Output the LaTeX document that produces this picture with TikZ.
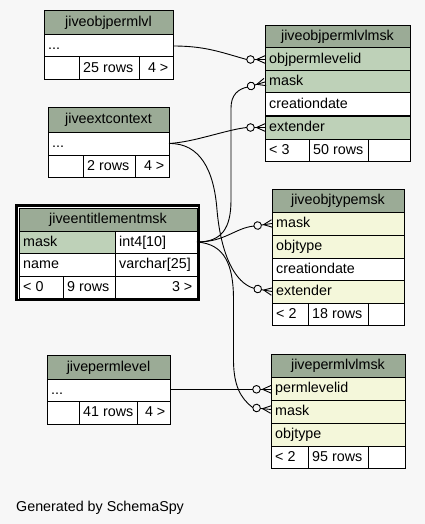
\documentclass[tikz,border=0pt]{standalone}
\usepackage{fontspec}
\setmainfont{Liberation Sans}
\definecolor{bg}{HTML}{F7F7F7}
\definecolor{hdr}{HTML}{9BAB96}
\definecolor{pk}{HTML}{BED1B8}
\definecolor{idx}{HTML}{F4F7DA}
\newcommand\cellnode[6]{\node[tcell,fill=#2,minimum width={#5pt-#3pt},minimum height={#6pt-#4pt},anchor=north west] (#1) at (#3,#4) {};}
\newcommand\lcell[7]{\cellnode{#1}{#2}{#3}{#4}{#5}{#6}\node[ttext,anchor=west] (#1t) at ([xshift=4pt]#1.west) {#7};}
\newcommand\ccell[7]{\cellnode{#1}{#2}{#3}{#4}{#5}{#6}\node[ttext] (#1t) at (#1.center) {#7};}
\newcommand\rcell[7]{\cellnode{#1}{#2}{#3}{#4}{#5}{#6}\node[ttext,anchor=east] (#1t) at ([xshift=-4.5pt]#1.east) {#7};}
\newcommand\crowfoot[3]{%
  \begin{scope}[shift={(#1)},rotate=#2]
    \draw[edge] (0,0) -- (-10.8,0);
    \draw[edge] (-8.5,0) -- (0,3.8) (-8.5,0) -- (0,-3.8);
    \draw[edge,fill=bg] (-14.5,0) circle[radius=3.8pt];
    \coordinate (#3) at (-18.3,0);
  \end{scope}}
\begin{document}
\begin{tikzpicture}[x=1pt,y=-1pt,
  tcell/.style={draw=black,line width=1pt,inner sep=0pt,outer sep=0pt},
  ttext/.style={inner sep=0pt,text height=11pt,text depth=3pt,font=\fontsize{14.3}{17}\selectfont},
  edge/.style={line width=0.9pt}]
\fill[bg] (0,0) rectangle (425,524);
\useasboundingbox (0,0) rectangle (425,524);

% jiveobjpermlvl
\ccell{t1h}{hdr}{44}{11}{173}{35}{jiveobjpermlvl}
\lcell{t1r}{white}{44}{35}{173}{57}{...}
\lcell{t1fa}{white}{44}{57}{79}{80}{}
\lcell{t1fb}{white}{79}{57}{139}{80}{25 rows}
\rcell{t1fc}{white}{139}{57}{173}{80}{4 >}

% jiveextcontext
\ccell{t2h}{hdr}{48}{108}{169}{132}{jiveextcontext}
\lcell{t2r}{white}{48}{132}{169}{155}{...}
\lcell{t2fa}{white}{48}{155}{83}{177}{}
\lcell{t2fb}{white}{83}{155}{135}{177}{2 rows}
\rcell{t2fc}{white}{135}{155}{169}{177}{4 >}

% jiveobjpermlvlmsk
\ccell{t3h}{hdr}{265}{26}{410}{48}{jiveobjpermlvlmsk}
\lcell{t3a}{pk}{265}{48}{410}{71}{objpermlevelid}
\lcell{t3b}{pk}{265}{71}{410}{93}{mask}
\lcell{t3c}{white}{265}{93}{410}{116}{creationdate}
\lcell{t3d}{pk}{265}{116}{410}{139}{extender}
\lcell{t3fa}{white}{265}{139}{309}{161}{< 3}
\lcell{t3fb}{white}{309}{139}{368}{161}{50 rows}
\lcell{t3fc}{white}{368}{139}{410}{161}{}

% jiveentitlementmsk
\node[draw,line width=2.5pt,fill=white,inner sep=0pt,outer sep=0pt,minimum width=182.5pt,minimum height=94.5pt,anchor=north west] (t4) at (16.25,205.5) {};
\ccell{t4h}{hdr}{19}{208}{197}{231}{jiveentitlementmsk}
\lcell{t4a}{pk}{19}{231}{115}{253}{mask}
\lcell{t4ab}{white}{115}{231}{197}{253}{int4[10]}
\lcell{t4b}{white}{19}{253}{115}{276}{name}
\lcell{t4bb}{white}{115}{253}{197}{276}{varchar[25]}
\lcell{t4fa}{white}{19}{276}{63}{298}{< 0}
\lcell{t4fb}{white}{63}{276}{115}{298}{9 rows}
\rcell{t4fc}{white}{115}{276}{197}{298}{3 >}

% jiveobjtypemsk
\ccell{t5h}{hdr}{272}{189}{404}{212}{jiveobjtypemsk}
\lcell{t5a}{idx}{272}{212}{404}{235}{mask}
\lcell{t5b}{idx}{272}{235}{404}{258}{objtype}
\lcell{t5c}{white}{272}{258}{404}{280}{creationdate}
\lcell{t5d}{idx}{272}{280}{404}{303}{extender}
\lcell{t5fa}{white}{272}{303}{308}{325}{< 2}
\lcell{t5fb}{white}{308}{303}{368}{325}{18 rows}
\lcell{t5fc}{white}{368}{303}{404}{325}{}

% jivepermlevel
\ccell{t6h}{hdr}{47}{355}{170}{379}{jivepermlevel}
\lcell{t6r}{white}{47}{379}{170}{401}{...}
\lcell{t6fa}{white}{47}{401}{79}{424}{}
\lcell{t6fb}{white}{79}{401}{137}{424}{41 rows}
\rcell{t6fc}{white}{137}{401}{170}{424}{4 >}

% jivepermlvlmsk
\ccell{t7h}{hdr}{271}{354}{405}{377}{jivepermlvlmsk}
\lcell{t7a}{idx}{271}{377}{405}{400}{permlevelid}
\lcell{t7b}{idx}{271}{400}{405}{423}{mask}
\lcell{t7c}{idx}{271}{423}{405}{446}{objtype}
\lcell{t7fa}{white}{271}{446}{308}{468}{< 2}
\lcell{t7fb}{white}{308}{446}{368}{468}{95 rows}
\lcell{t7fc}{white}{368}{446}{405}{468}{}

\node[ttext,anchor=base west] (gen) at (16,511.5) {Generated by SchemaSpy};

% crow's feet
\crowfoot{t3a.west}{0}{e6}
\crowfoot{t3b.west}{16}{e1}
\crowfoot{t3d.west}{0}{e4}
\crowfoot{t5a.west}{8}{e2}
\crowfoot{t5d.west}{-10}{e5}
\crowfoot{[yshift=-0.8pt]t7a.west}{0}{e7}
\crowfoot{[yshift=2pt]t7b.west}{-6}{e3}

% connectors
\draw[edge] (t1r.east) .. controls (205,46) and (220,52) .. (e6);
\draw[edge] (t2r.east) .. controls (195,142) and (225,130) .. (e4);
\draw[edge] (t2r.east) .. controls (200,143) and (214,170) .. (217,210) .. controls (221,255) and (235,283) .. (e5);
\draw[edge] (t4ab.east) .. controls (222,242) and (231,228) .. (231,200) -- (231,108) .. controls (231,95) and (238,89) .. (e1);
\draw[edge] (t4ab.east) .. controls (225,242) and (235,228) .. (e2);
\draw[edge] (t4ab.east) .. controls (225,244) and (233.5,265) .. (233.5,300) -- (233.5,362) .. controls (234,385) and (240,398) .. (e3);
\draw[edge] (t6r.east |- e7) -- (e7);
\end{tikzpicture}
\end{document}
